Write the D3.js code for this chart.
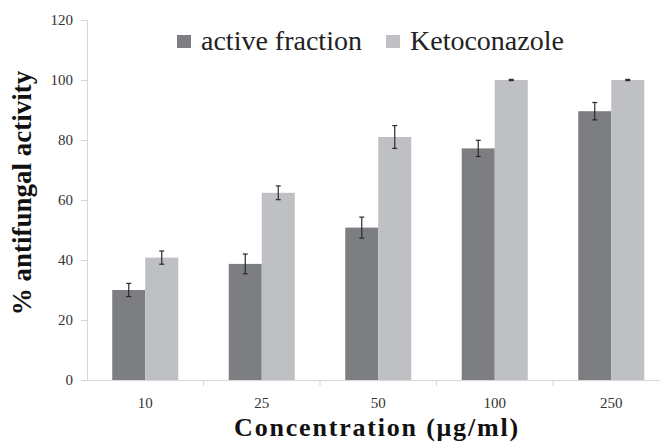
<!DOCTYPE html>
<html><head><meta charset="utf-8">
<script src="https://cdn.jsdelivr.net/npm/d3@7"></script>
<style>body{margin:0;background:#fff}svg{display:block}</style>
</head><body><svg id="c" width="660" height="447"></svg>
<script>
const categories = ["10","25","50","100","250"];
const seriesNames = ["active fraction","Ketoconazole"];
const activeFraction = [30, 38.7, 50.8, 77.2, 89.6];
const activeErr = [2.2, 3.3, 3.5, 2.7, 2.9];
const ketoconazole = [40.8, 62.4, 81, 100, 100];
const ketoErr = [2.2, 2.3, 3.8, 0.2, 0.2];
const yTicks = [0,20,40,60,80,100,120];
const colors = ["#7c7e82","#bec0c3"];
const FONT = "Liberation Serif";

const svg = d3.select("#c");
const x0 = d3.scaleBand().domain(categories).range([87, 669.5]).paddingInner(0).paddingOuter(0);
const x1 = d3.scaleBand().domain(seriesNames).range([0, x0.bandwidth()]).paddingInner(0).paddingOuter(0.765);
const y = d3.scaleLinear().domain([0,120]).range([380,20]);

const series = [
  {name: seriesNames[0], vals: activeFraction, err: activeErr, color: colors[0]},
  {name: seriesNames[1], vals: ketoconazole, err: ketoErr, color: colors[1]}
];

// axes
const yAx = svg.append("g").attr("transform","translate(87,0)")
  .call(d3.axisLeft(y).tickValues(yTicks).tickSize(6).tickPadding(8));
yAx.select(".domain").attr("stroke","#d6d6d6");
yAx.selectAll(".tick line").attr("stroke","#d6d6d6");
yAx.selectAll("text").style("font-family",FONT).style("font-size","15px").attr("fill","#333");

const xAx = svg.append("g").attr("transform","translate(0,380)")
  .call(d3.axisBottom(x0).tickSize(0).tickPadding(17));
xAx.select(".domain").attr("stroke","#d6d6d6");
xAx.selectAll("text").style("font-family",FONT).style("font-size","15px").attr("fill","#333");
// boundary ticks
svg.append("g").selectAll("line").data(categories).join("line")
  .attr("x1", d=> x0(d) + x0.bandwidth())
  .attr("x2", d=> x0(d) + x0.bandwidth())
  .attr("y1",380).attr("y2",386).attr("stroke","#d6d6d6");

// bars
series.forEach(s => {
  const g = svg.append("g");
  g.selectAll("rect").data(categories).join("rect")
    .attr("x", (c)=> x0(c)+x1(s.name))
    .attr("width", x1.bandwidth())
    .attr("y", (c,i)=> y(s.vals[i]))
    .attr("height", (c,i)=> y(0)-y(s.vals[i]))
    .attr("fill", s.color);
});
series.forEach(s => {
  const g = svg.append("g").attr("stroke","#2a2a2a").attr("stroke-width",1.2);
  categories.forEach((c,i)=>{
    const cx = x0(c)+x1(s.name)+x1.bandwidth()/2;
    const t = y(s.vals[i]+s.err[i]), b = y(s.vals[i]-s.err[i]);
    g.append("line").attr("x1",cx).attr("x2",cx).attr("y1",t).attr("y2",b);
    g.append("line").attr("x1",cx-2.5).attr("x2",cx+2.5).attr("y1",t).attr("y2",t);
    g.append("line").attr("x1",cx-2.5).attr("x2",cx+2.5).attr("y1",b).attr("y2",b);
  });
});

// legend
const legX = [177, 386];
series.forEach((s,i)=>{
  svg.append("rect").attr("x",legX[i]).attr("y",35).attr("width",14).attr("height",13).attr("fill",s.color);
  svg.append("text").attr("x",legX[i]+24).attr("y",49.5)
    .style("font-family",FONT).style("font-size","28px").attr("fill","#222").text(s.name);
});

// axis titles
svg.append("text").attr("transform","translate(31,193) rotate(-90)").attr("text-anchor","middle")
  .style("font-family",FONT).style("font-weight","bold").style("font-size","27px").attr("fill","#111")
  .text("% antifungal activity");
svg.append("text").attr("x",377).attr("y",436).attr("text-anchor","middle")
  .style("font-family",FONT).style("font-weight","bold").style("font-size","26px").attr("fill","#111")
  .style("letter-spacing","1.8px")
  .text("Concentration (μg/ml)");
</script></body></html>
